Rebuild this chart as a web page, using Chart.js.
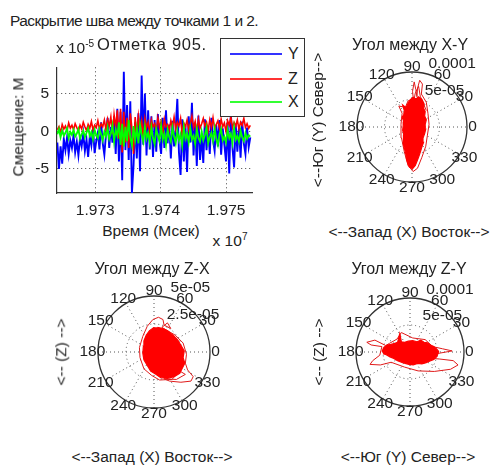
<!DOCTYPE html>
<html>
<head>
<meta charset="utf-8">
<script src="https://cdn.jsdelivr.net/npm/chart.js@4.4.0/dist/chart.umd.min.js"></script>
<style>
  html, body { margin: 0; padding: 0; background: #fff; overflow: hidden; }
  #fig { position: relative; width: 493px; height: 467px; overflow: hidden;
         font-family: 'Liberation Sans', Arial, sans-serif; color: #222; }
  #fig canvas { position: absolute; }
  .lbl { position: absolute; white-space: nowrap; font-size: 15.5px; line-height: 1;
         transform: translate(-50%, -50%); }
  .vert { transform: translate(-50%, -50%) rotate(-90deg); }
  .big { font-size: 16px; }
  #legend { position: absolute; left: 220px; top: 38px; width: 83px; height: 77px;
            border: 1.5px solid #333; background: #fff; z-index: 5; }
  #legend .swatch { position: absolute; left: 9px; width: 52px; height: 2px; }
  #legend .name { position: absolute; left: 67px; font-size: 16px; line-height: 1; }
</style>
</head>
<body>
<div id="fig">
  <canvas id="series" width="262" height="172" style="left:0;top:50px"></canvas>
  <canvas id="polarXY" width="190" height="190" style="left:317px;top:32px"></canvas>
  <canvas id="polarZX" width="192" height="192" style="left:58px;top:256px"></canvas>
  <canvas id="polarZY" width="188" height="188" style="left:316px;top:258px"></canvas>

  <div class="lbl" style="left:134px;top:21px;letter-spacing:-0.55px">Раскрытие шва между точками 1 и 2.</div>
  <div class="lbl" style="left:152px;top:44px;font-size:16.5px;letter-spacing:0.7px">Отметка 905.</div>
  <div class="lbl" style="left:75px;top:47px">x 10<sup style="font-size:10px">-5</sup></div>
  <div class="lbl vert" style="left:18px;top:127px">Смещение: М</div>
  <div class="lbl" style="left:151px;top:231px">Время (Мсек)</div>
  <div class="lbl" style="left:230px;top:240px">x 10<sup style="font-size:10px">7</sup></div>

  <div id="legend">
    <div class="swatch" style="top:14px;background:#3333ff"></div><div class="name" style="top:7px">Y</div>
    <div class="swatch" style="top:39px;background:#ff3333"></div><div class="name" style="top:32px">Z</div>
    <div class="swatch" style="top:62px;background:#33ff33"></div><div class="name" style="top:55px">X</div>
  </div>

  <div class="lbl big" style="left:410px;top:45px">Угол между X-Y</div>
  <div class="lbl vert" style="left:318px;top:120px">&lt;--Юг (Y) Север--&gt;</div>
  <div class="lbl" style="left:409px;top:232px">&lt;--Запад (X) Восток--&gt;</div>

  <div class="lbl big" style="left:152px;top:269px">Угол между Z-X</div>
  <div class="lbl vert" style="left:61px;top:352px">&lt;-- (Z) --&gt;</div>
  <div class="lbl" style="left:152px;top:457px">&lt;--Запад (X) Восток--&gt;</div>

  <div class="lbl big" style="left:409px;top:269px">Угол между Z-Y</div>
  <div class="lbl vert" style="left:319px;top:352px">&lt;-- (Z) --&gt;</div>
  <div class="lbl" style="left:408px;top:457px">&lt;--Юг (Y) Север--&gt;</div>
</div>

<script>
// time axis (x 10^7 ms) and displacement (x 10^-5 m)
const xTicks = [1.973, 1.974, 1.975]
const yTicks = [-5, 0, 5]
const tStart = 1.97242
const tStep = 0.0000248

const seriesY = [
  -1.5, -5.0, -2.0, -4.3, -1.0, -2.5, -0.8, -3.0, -1.2, -2.2,
  -0.5, -2.8, -1.4, -3.2, -0.9, -2.0, -0.3, -2.6, -1.1, -3.4,
  -0.7, -1.9, 0.4, -2.9, -1.3, -0.2, -2.4, 1.2, -1.6, -3.1,
  -0.4, 1.8, -2.2, 0.6, -1.5, 2.0, -3.0, 3.0, -4.0, 2.6,
  -6.5, 7.9, -2.5, 3.5, -3.8, 4.0, -8.2, -4.5, 1.2, -3.6,
  2.4, -5.3, 7.4, -1.8, 5.0, -3.2, 2.8, -2.4, 2.0, -3.4,
  1.5, -2.7, 2.3, -1.2, -3.0, 1.8, -2.2, 2.8, -1.6, 0.9,
  -3.6, 1.4, -2.0, 0.5, 4.3, -2.8, -5.8, 1.6, -4.0, 0.8,
  -5.4, 2.0, -1.5, 3.8, -3.2, 1.0, -4.6, 2.1, -3.8, -0.6,
  -4.2, 1.6, -2.5, 0.7, -3.0, 1.8, -1.2, -2.6, 0.9, -2.0,
  1.5, -3.1, 0.4, -1.8, -4.0, 1.2, -5.6, 2.5, -2.2, -4.8,
  1.0, -2.7, 0.6, -3.5, 1.3, -1.6, -3.0, 0.5, -2.1, -0.8
]
const seriesZ = [
  0.2, 0.6, -0.2, 0.9, 0.3, 0.7, 0.1, 1.1, 0.4, 0.8,
  0.2, 1.0, 0.5, 0.0, 0.8, 0.3, 1.2, 0.6, 0.1, 0.9,
  0.4, 1.3, 0.2, 0.8, 0.5, 1.4, 0.3, 1.0, 0.6, 1.5,
  0.2, 1.6, 0.7, 1.9, -0.4, 2.2, 0.5, 2.8, -1.0, 3.0,
  -2.8, 2.6, -1.5, 1.8, -2.2, 2.4, 0.4, -3.0, 1.9, -0.6,
  2.0, 0.2, 1.4, -0.8, 1.7, 0.5, 1.2, -0.3, 1.5, 0.6,
  1.0, 0.1, 1.8, 0.5, 1.3, -0.4, 1.6, 0.6, 0.9, 0.2,
  1.4, 0.5, 1.9, 0.3, 1.2, 0.7, 1.7, -0.5, 1.1, 0.6,
  1.5, 0.2, 1.0, 2.0, 0.5, 1.3, -0.2, 1.6, 0.4, 1.0,
  1.7, 0.7, 1.2, 0.1, 1.5, 0.5, 1.8, 0.3, 0.9, 1.4,
  0.4, 1.6, 0.6, 1.1, 0.0, 1.4, 0.8, 1.9, 0.5, 1.2,
  0.7, 1.5, 0.3, 1.2, 0.8, 1.7, 0.5, 1.0, 0.4, 0.8
]
const seriesX = [
  -0.4, 0.3, -0.8, 0.1, -0.6, -0.2, 0.4, -0.9, -0.1, -0.5,
  0.2, -0.7, -0.3, 0.3, -1.0, -0.4, 0.1, -0.8, -0.2, 0.4,
  -0.6, -0.1, -1.1, 0.2, -0.5, -0.9, 0.3, -0.4, -1.2, 0.0,
  -0.7, 0.5, -1.0, -0.3, 0.8, -1.4, 0.2, -0.6, 1.2, -1.8,
  1.0, -2.0, 0.6, -1.3, 1.5, -0.8, -1.9, 0.7, -1.2, 0.4,
  -1.6, 0.9, -0.5, -1.4, 0.6, -1.0, -0.2, -1.5, 0.5, -0.9,
  -1.7, 0.3, -0.6, -1.3, 0.7, -1.1, -0.3, -1.8, 0.2, -0.8,
  -1.4, 0.5, -0.7, -1.6, 0.1, -1.2, -0.4, -1.9, 0.6, -1.0,
  -0.3, -1.5, 0.4, -1.1, -0.6, -1.7, 0.3, -0.9, -1.4, 0.0,
  -1.2, -0.5, 0.5, -1.6, -0.8, -0.2, -1.3, 0.4, -1.0, -1.8,
  -0.4, 0.3, -1.2, -0.7, -1.5, 0.2, -0.9, -0.3, -1.6, 0.5,
  -1.1, -0.6, -1.4, 0.1, -0.8, -1.3, -0.2, -1.0, -0.5, -0.7
]

// polar plots, values in 1e-5 m, [horizontal, vertical]
const angleTicks = [0, 30, 60, 90, 120, 150, 180, 210, 240, 270, 300, 330]

const xyRings = [5, 10]
const xyRingLabels = ['5e-05', '0.0001']
const xyCore = [
  [0.0, -7.7], [0.6, -7.0], [1.0, -6.0], [1.3, -5.2], [1.6, -4.3], [1.8, -3.6], [2.1, -2.8],
  [2.0, -2.0], [2.3, -1.2], [2.5, -0.4], [2.4, 0.5], [2.6, 1.3], [2.3, 2.0], [2.4, 2.8],
  [2.1, 3.4], [2.2, 4.2], [1.8, 5.0], [1.2, 5.5], [0.7, 5.1], [0.2, 5.4], [-0.4, 4.9],
  [-0.8, 4.2], [-1.1, 3.5], [-1.7, 4.0], [-1.4, 3.0], [-1.5, 2.2], [-1.8, 1.8], [-1.5, 1.0],
  [-1.6, 0.2], [-1.7, -0.6], [-1.5, -1.4], [-1.6, -2.3], [-1.5, -3.2], [-1.3, -4.2],
  [-1.1, -5.0], [-1.0, -5.9], [-0.7, -6.8], [-0.4, -7.4]
]
const xyLoops = [
  [0.3, 4.5], [0.1, 6.5], [0.4, 8.2], [0.7, 6.8], [0.9, 5.5], [1.0, 7.0], [1.4, 8.5], [1.9, 7.8],
  [1.7, 6.0], [2.6, 4.5], [2.9, 2.5], [3.1, 0.5], [2.8, -1.5], [2.5, -3.5], [1.8, -5.5], [1.0, -7.5],
  [0.2, -8.1], [-0.7, -7.0], [-1.4, -4.5], [-1.9, -2.0], [-2.0, 0.5], [-1.8, 2.5], [-2.4, 3.8],
  [-1.2, 3.6], [-0.7, 4.8], [0.3, 4.5], [0.6, 6.2], [1.2, 7.4], [1.5, 5.6], [2.6, 3.0]
]

const zxRings = [2.5, 5]
const zxRingLabels = ['2.5e-05', '5e-05']
const zxCore = [
  [0.3, 2.2], [0.8, 2.1], [1.2, 1.9], [1.7, 1.5], [2.1, 1.1], [2.4, 0.6], [2.7, 0.1],
  [2.6, -0.5], [2.75, -1.0], [2.5, -1.5], [2.3, -1.9], [1.8, -2.2], [1.2, -2.35], [0.6, -2.3],
  [0.2, -2.0], [-0.3, -1.7], [-0.6, -1.2], [-0.9, -0.7], [-1.0, -0.1], [-0.95, 0.5],
  [-0.9, 1.0], [-0.7, 1.5], [-0.4, 1.9], [0.0, 2.2]
]
const zxLoops = [
  [-1.0, 1.4], [-0.6, 2.3], [-0.1, 2.9], [0.4, 3.1], [0.8, 2.9], [0.9, 2.4], [1.5, 2.1], [1.2, 2.6],
  [0.7, 2.2], [1.9, 1.5], [2.6, 0.8], [2.9, -0.2], [2.8, -1.0], [3.0, -1.6], [3.5, -2.2], [3.3, -2.6],
  [2.4, -2.7], [1.4, -2.6], [0.9, -2.4], [2.0, -2.45], [2.8, -2.0], [2.3, -1.7], [1.6, -2.45],
  [0.5, -2.5], [-0.2, -2.1], [-0.9, -1.5], [-1.25, -0.5], [-1.3, 0.4], [-1.0, 1.4]
]

const zyRings = [5, 10]
const zyRingLabels = ['5e-05', '0.0001']
const zyCore = [
  [-5.2, 0.1], [-4.8, 0.9], [-4.2, 1.3], [-3.5, 1.4], [-2.8, 1.6], [-2.3, 1.8], [-1.9, 3.4],
  [-1.6, 1.9], [-1.0, 1.8], [-0.3, 2.0], [0.5, 2.1], [1.3, 1.9], [2.0, 2.2], [2.6, 1.8],
  [3.2, 1.7], [3.8, 1.3], [4.4, 1.0], [5.0, 0.5], [5.3, 0.1], [5.0, -0.8], [4.4, -1.4],
  [3.6, -1.7], [3.0, -2.0], [2.2, -2.2], [1.4, -2.1], [0.6, -2.4], [-0.2, -2.3], [-0.9, -2.1],
  [-1.6, -1.9], [-2.3, -1.6], [-3.0, -1.2], [-3.7, -0.9], [-4.4, -0.5], [-5.0, -0.3]
]
const zyLoops = [
  [-4.5, 1.2], [-6.5, 2.2], [-8.0, 1.8], [-7.2, 1.3], [-5.2, 1.0], [-5.6, -0.6], [-6.9, -1.6],
  [-7.4, -2.3], [-5.5, -2.4], [-3.5, -1.9], [-1.0, -2.8], [1.5, -3.5], [4.5, -3.6], [7.5, -3.2],
  [8.9, -2.4], [8.0, -1.6], [5.5, -1.3], [3.0, -1.1], [5.0, -0.3], [7.8, 0.2], [6.0, 0.6],
  [4.2, 1.0], [2.8, 2.3], [0.5, 2.6], [-1.6, 3.6], [-2.4, 2.4], [-3.8, 1.6], [-4.5, 1.2]
]

Chart.defaults.font.family = "'Liberation Sans', Arial, sans-serif"
Chart.defaults.color = '#222'

const textColor = '#222'
const gridColor = '#444'
const tickFont = { size: 15.5 }

// time series
const toSeries = values => values.map((v, i) => ({ x: tStart + i * tStep, y: v }))

new Chart(document.getElementById('series'), {
  type: 'line',
  data: {
    datasets: [
      { label: 'X', data: toSeries(seriesX), borderColor: '#00ff00', borderWidth: 1.8, order: 0 },
      { label: 'Z', data: toSeries(seriesZ), borderColor: '#ff0000', borderWidth: 1.6, order: 1 },
      { label: 'Y', data: toSeries(seriesY), borderColor: '#0000ff', borderWidth: 1.9, order: 2 }
    ]
  },
  options: {
    responsive: false,
    animation: false,
    layout: { padding: { top: 10, right: 10, left: 0, bottom: 0 } },
    plugins: { legend: { display: false }, tooltip: { enabled: false } },
    elements: { point: { radius: 0 }, line: { tension: 0 } },
    scales: {
      x: {
        type: 'linear',
        min: 1.972415,
        max: 1.975397,
        afterBuildTicks: scale => { scale.ticks = xTicks.map(v => ({ value: v })) },
        afterFit: scale => { scale.height = 29 },
        ticks: { callback: v => v.toFixed(3), maxRotation: 0, autoSkip: false, padding: 8, color: textColor, font: tickFont },
        grid: { color: gridColor, lineWidth: 1, drawTicks: false },
        border: { color: '#333', width: 1.2, dash: [1, 3] }
      },
      y: {
        min: -8.2,
        max: 8.5,
        afterBuildTicks: scale => { scale.ticks = yTicks.map(v => ({ value: v })) },
        afterFit: scale => { scale.width = 57 },
        ticks: { padding: 8, color: textColor, font: tickFont },
        grid: { color: gridColor, lineWidth: 1, drawTicks: false },
        border: { color: '#333', width: 1.2, dash: [1, 3] }
      }
    }
  }
})

// polar grid, angle labels and ring labels (MATLAB style)
const polarDecor = {
  id: 'polarDecor',
  beforeDatasetsDraw(chart, args, opts) {
    const { ctx, scales: { x, y } } = chart
    const rings = opts.rings
    const rmax = rings[rings.length - 1]
    const cx = x.getPixelForValue(0)
    const cy = y.getPixelForValue(0)
    ctx.save()
    ctx.strokeStyle = '#555'
    ctx.lineWidth = 1
    ctx.setLineDash([1, 3])
    angleTicks.filter(a => a < 180).forEach(a => {
      const c = Math.cos(a * Math.PI / 180) * rmax
      const s = Math.sin(a * Math.PI / 180) * rmax
      ctx.beginPath()
      ctx.moveTo(x.getPixelForValue(-c), y.getPixelForValue(-s))
      ctx.lineTo(x.getPixelForValue(c), y.getPixelForValue(s))
      ctx.stroke()
    })
    rings.slice(0, -1).forEach(r => {
      ctx.beginPath()
      ctx.arc(cx, cy, x.getPixelForValue(r) - cx, 0, Math.PI * 2)
      ctx.stroke()
    })
    ctx.setLineDash([])
    ctx.strokeStyle = '#333'
    ctx.lineWidth = 1.3
    ctx.beginPath()
    ctx.arc(cx, cy, x.getPixelForValue(rmax) - cx, 0, Math.PI * 2)
    ctx.stroke()
    ctx.restore()
  },
  afterDatasetsDraw(chart, args, opts) {
    const { ctx, scales: { x, y } } = chart
    const rings = opts.rings
    const rmax = rings[rings.length - 1]
    ctx.save()
    ctx.fillStyle = textColor
    ctx.font = "15.5px 'Liberation Sans', Arial, sans-serif"
    ctx.textAlign = 'center'
    ctx.textBaseline = 'middle'
    angleTicks.forEach(a => {
      const rt = 1.1 * rmax
      const px = x.getPixelForValue(rt * Math.cos(a * Math.PI / 180))
      const py = y.getPixelForValue(rt * Math.sin(a * Math.PI / 180))
      ctx.fillText(String(a), px, py)
    })
    const a82 = 82 * Math.PI / 180
    ctx.textAlign = 'left'
    ctx.textBaseline = 'bottom'
    rings.forEach((r, i) => {
      const rr = r + rings[0] / 20
      ctx.fillText('  ' + opts.labels[i], x.getPixelForValue(rr * Math.cos(a82)), y.getPixelForValue(rr * Math.sin(a82)))
    })
    ctx.restore()
  }
}

const toPoints = pairs => pairs.map(p => ({ x: p[0], y: p[1] }))

function makePolar(id, core, loops, rings, labels) {
  const rmax = rings[rings.length - 1]
  const axis = { type: 'linear', min: -rmax, max: rmax, display: false }
  return new Chart(document.getElementById(id), {
    type: 'scatter',
    data: {
      datasets: [
        { data: toPoints(core), showLine: true, fill: 'shape', backgroundColor: '#ff0000',
          borderColor: '#ff0000', borderWidth: 1.2, pointRadius: 0 },
        { data: toPoints(loops), showLine: true, borderColor: '#e01a1a', borderWidth: 1, pointRadius: 0 }
      ]
    },
    options: {
      responsive: false,
      animation: false,
      layout: { padding: 40 },
      plugins: { legend: { display: false }, tooltip: { enabled: false }, polarDecor: { rings, labels } },
      scales: { x: axis, y: { ...axis } }
    },
    plugins: [polarDecor]
  })
}

makePolar('polarXY', xyCore, xyLoops, xyRings, xyRingLabels)
makePolar('polarZX', zxCore, zxLoops, zxRings, zxRingLabels)
makePolar('polarZY', zyCore, zyLoops, zyRings, zyRingLabels)
</script>
</body>
</html>
